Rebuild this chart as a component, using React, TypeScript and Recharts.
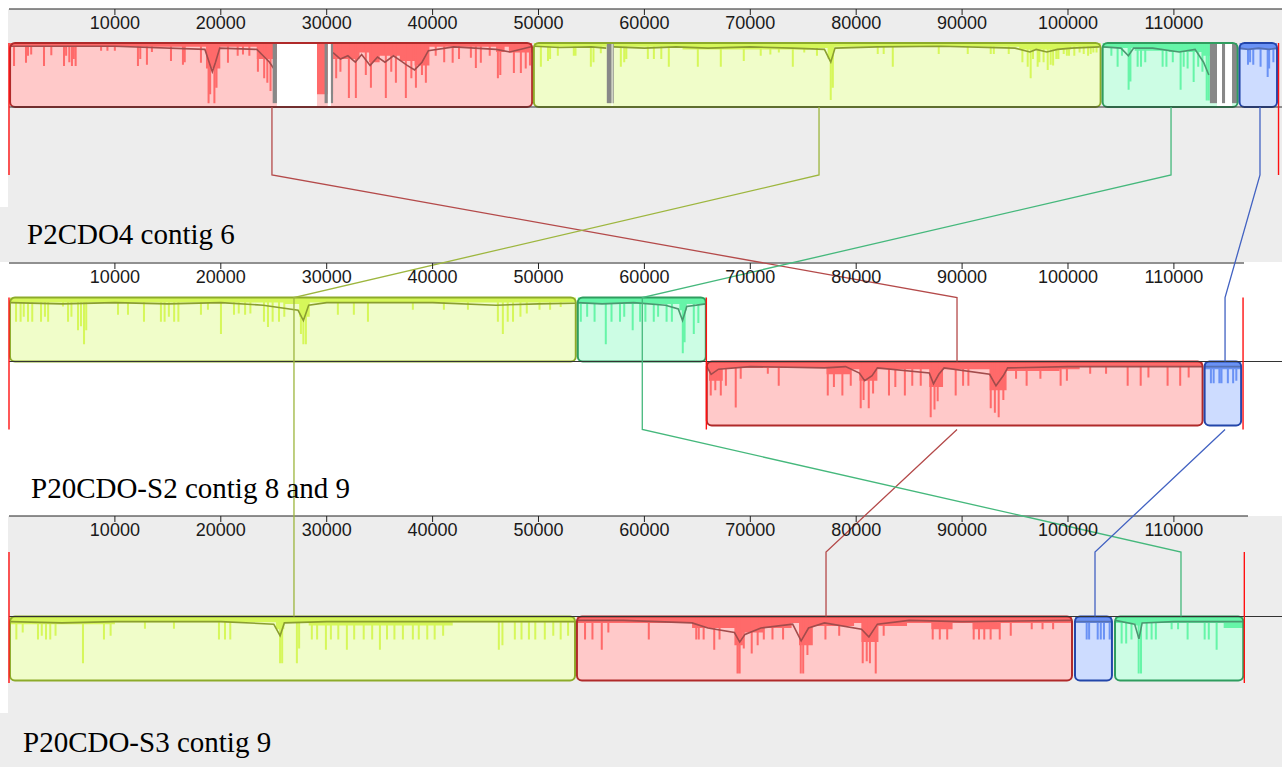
import {
  Area, ComposedChart, Line, Rectangle, ReferenceArea, ReferenceLine, Scatter, XAxis, YAxis,
} from 'recharts'

const TICKS = [10000, 20000, 30000, 40000, 50000, 60000, 70000, 80000, 90000, 100000, 110000]
const GENOME_NAMES = ['P2CDO4 contig 6', 'P20CDO-S2 contig 8 and 9', 'P20CDO-S3 contig 9']
const GENOME_LENGTHS = [119880, 116530, 116650]
const CONTIG_BREAKS = [[], [65850], []]

// LCBs of each genome: [lcb, start kb, end kb, inverted]
type Block = [string, number, number, boolean]
const BLOCKS_G1: Block[] = [
  ['red', 0.1, 49.4, false], ['yellow', 49.56, 103.08, false],
  ['green', 103.27, 116.02, false], ['blue', 116.2, 119.74, false],
]
const BLOCKS_G2: Block[] = [
  ['yellow', 0.09, 53.52, false], ['green', 53.71, 65.8, false],
  ['red', 65.89, 112.71, true], ['blue', 112.9, 116.35, true],
]
const BLOCKS_G3: Block[] = [
  ['yellow', 0.09, 53.45, true], ['red', 53.63, 100.38, true],
  ['blue', 100.66, 104.15, true], ['green', 104.44, 116.55, true],
]

// where the connecting line meets each genome (bp)
const ANCHORS_RED = [24830, 89520, 77150]
const ANCHORS_YELLOW = [76490, 26910, 26910]
const ANCHORS_GREEN = [109730, 59800, 110670]
const ANCHORS_BLUE = [118130, 114830, 102550]

// similarity profile, base level: [kb, drop % of block height]
const BASE_G1_RED = [
  [0.1, 6], [18.6, 40], [19.95, 6], [23.4, 25], [25.3, 0], [29.08, 80], [30.6, 25], [33.1, 15], [34.0, 30],
  [35.0, 20], [36.9, 28], [38.3, 35], [39.7, 6], [46.0, 14], [46.8, 6], [47.2, 15], [49.4, 15],
]
const BASE_G1_YELLOW = [
  [49.56, 6], [56.45, 0], [57.1, 6], [63.6, 10], [75.5, 8], [77.3, 25], [77.9, 6], [95.4, 10], [100.3, 6], [103.08, 6],
]
const BASE_G1_GREEN = [[103.27, 8], [106.3, 12], [109.5, 14], [112.7, 20], [113.4, 0], [116.02, 0]]
const BASE_G1_BLUE = [[116.2, 10], [119.74, 10]]
const BASE_G2_YELLOW = [[0.09, 8], [26.0, 10], [27.4, 30], [28.4, 8], [53.52, 8]]
const BASE_G2_GREEN = [[53.71, 10], [63.3, 20], [64.0, 10], [65.8, 10]]
const BASE_G2_RED = [
  [65.89, 10], [66.1, 30], [67.4, 10], [77.2, 20], [79.5, 12], [80.3, 30], [82.0, 12], [86.9, 40], [88.2, 12],
  [92.6, 45], [94.2, 15], [99.2, 12], [101.1, 8], [112.71, 8],
]
const BASE_G2_BLUE = [[112.9, 12], [116.35, 12]]
const BASE_G3_YELLOW = [[0.09, 12], [10.0, 9], [25.2, 20], [26.0, 9], [28.3, 14], [38.0, 14], [41.9, 9], [53.45, 12]]
const BASE_G3_RED = [
  [53.63, 10], [64.5, 18], [68.5, 45], [69.3, 25], [71.2, 18], [73.9, 10], [74.6, 45], [75.9, 15], [79.8, 10],
  [80.5, 40], [82.1, 15], [84.8, 10], [87.1, 20], [89.1, 10], [91.0, 20], [93.5, 10], [100.38, 10],
]
const BASE_G3_BLUE = [[100.66, 10], [104.15, 10]]
const BASE_G3_GREEN = [[104.44, 10], [106.3, 14], [107.0, 10], [114.7, 18], [116.55, 18]]

// thin spikes of the profile: [kb, drop %]
const SPIKES_G1_RED = [
  [0.38, 36], [1.51, 31], [1.7, 20], [2.0, 18], [3.21, 36], [3.9, 19], [5.1, 36], [5.3, 20], [5.6, 30], [5.85, 36],
  [6.0, 25], [6.2, 36], [8.6, 12], [9.2, 12], [9.9, 12], [12.08, 36], [12.3, 25], [12.93, 34], [13.4, 14],
  [15.2, 28], [16.33, 34], [16.5, 30], [18.03, 31], [18.75, 94], [18.9, 80], [19.3, 94], [19.5, 70], [20.58, 31],
  [21.5, 20], [22.0, 18], [22.6, 20], [23.41, 45], [24.0, 55], [24.3, 62], [24.6, 75], [30.8, 55], [31.2, 45],
  [32.0, 86], [32.66, 86], [33.6, 50], [34.08, 70], [35.49, 86], [36.0, 45], [36.44, 62], [37.38, 86], [37.9, 55],
  [38.33, 70], [38.9, 50], [39.27, 62], [40.2, 20], [41.0, 30], [41.8, 31], [42.4, 25], [43.52, 23], [43.99, 39],
  [44.46, 31], [45.3, 20], [46.07, 55], [46.3, 50], [47.58, 47], [48.24, 47], [48.7, 40], [49.1, 35],
]
const SPIKES_G1_YELLOW = [
  [50.13, 37], [50.8, 28], [51.0, 25], [51.73, 20], [53.24, 20], [53.4, 20], [54.85, 37], [55.1, 30], [55.79, 16],
  [57.68, 37], [58.0, 30], [58.2, 25], [60.23, 25], [60.8, 25], [61.5, 25], [62.21, 37], [64.95, 37], [67.12, 37],
  [69.29, 28], [70.89, 20], [71.8, 18], [72.6, 15], [73.92, 37], [75.0, 15], [76.2, 20], [77.5, 89], [77.7, 70],
  [81.94, 17], [82.5, 17], [83.36, 37], [87.7, 17], [90.44, 17], [92.61, 17], [92.9, 17], [94.31, 17], [95.6, 30],
  [96.1, 37], [96.38, 55], [96.6, 25], [97.04, 37], [97.2, 30], [97.6, 30], [97.99, 42], [98.27, 34], [98.5, 35],
  [98.8, 25], [99.0, 25], [99.5, 17], [99.8, 20], [100.0, 20], [100.5, 20], [101.0, 15], [101.39, 17],
  [101.8, 20], [102.05, 17], [102.3, 15], [102.6, 15],
]
const SPIKES_G1_GREEN = [
  [104.0, 20], [104.59, 37], [105.0, 20], [105.63, 73], [105.8, 60], [106.48, 37], [106.8, 37], [107.2, 30],
  [108.84, 37], [109.2, 37], [109.8, 30], [110.54, 73], [110.83, 37], [111.2, 40], [111.77, 61], [112.2, 37],
  [112.6, 45], [113.0, 90], [113.2, 90],
]
const SPIKES_G1_BLUE = [[116.9, 34], [117.1, 30], [117.4, 34], [118.09, 37], [118.76, 53], [118.9, 40], [119.3, 30]]
const SPIKES_G2_YELLOW = [
  [0.57, 38], [1.0, 38], [1.3, 30], [1.7, 38], [2.1, 38], [2.93, 38], [3.3, 30], [3.6, 38], [5.0, 14], [5.48, 38],
  [5.8, 30], [6.42, 51], [6.7, 45], [6.99, 73], [7.2, 51], [10.2, 27], [11.14, 27], [12.65, 38], [14.25, 38],
  [14.6, 38], [15.0, 30], [15.5, 38], [15.9, 38], [18.03, 27], [18.69, 19], [19.92, 57], [21.15, 27], [21.6, 25],
  [22.2, 27], [22.7, 25], [23.98, 38], [24.36, 46], [24.8, 38], [25.4, 38], [25.9, 30], [27.47, 57], [27.7, 73],
  [27.94, 73], [30.96, 27], [32.47, 27], [33.8, 38], [38.04, 19], [40.97, 19], [43.24, 19], [46.07, 38], [46.54, 57],
  [47.0, 38], [47.5, 38], [48.2, 30], [48.8, 25], [50.0, 19], [51.0, 19], [52.0, 15],
]
const SPIKES_G2_GREEN = [
  [53.9, 38], [54.5, 30], [55.2, 38], [56.26, 73], [56.8, 38], [57.6, 38], [58.0, 30], [58.8, 51], [59.5, 38],
  [60.0, 38], [60.79, 38], [61.2, 30], [62.0, 38], [62.5, 38], [63.53, 87], [63.7, 70], [64.57, 57], [65.0, 40],
]
const SPIKES_G2_RED = [
  [66.17, 53], [66.6, 45], [67.12, 53], [67.6, 38], [68.53, 72], [69.0, 27], [71.56, 19], [72.59, 38], [77.22, 53],
  [77.8, 40], [78.6, 53], [79.39, 38], [80.33, 73], [80.6, 60], [81.09, 73], [81.5, 50], [83.0, 53], [83.6, 40],
  [84.5, 53], [85.2, 38], [86.0, 38], [86.94, 87], [87.3, 75], [87.6, 62], [89.3, 53], [90.0, 38], [90.5, 38],
  [92.61, 73], [93.0, 80], [93.36, 87], [93.8, 60], [95.0, 27], [96.0, 38], [97.3, 27], [99.21, 38], [99.8, 30],
  [102.0, 19], [103.5, 19], [105.54, 38], [106.77, 38], [107.5, 25], [109.31, 38], [110.5, 38], [111.3, 25],
]
const SPIKES_G2_BLUE = [[113.4, 34], [113.66, 34], [114.2, 34], [114.4, 34], [115.0, 34], [115.5, 34], [115.8, 30]]
const SPIKES_G3_YELLOW = [
  [0.6, 36], [1.2, 25], [2.64, 36], [3.0, 30], [3.4, 36], [3.8, 36], [4.3, 30], [6.89, 73], [8.87, 36], [9.5, 30],
  [12.74, 19], [15.48, 19], [19.73, 36], [20.3, 36], [20.8, 36], [25.5, 73], [25.7, 73], [27.09, 73], [27.3, 50],
  [28.5, 36], [29.0, 36], [29.83, 52], [30.3, 36], [31.0, 36], [31.81, 52], [32.5, 36], [33.4, 36], [34.2, 36],
  [34.93, 52], [35.6, 36], [36.3, 36], [37.1, 36], [38.04, 36], [38.6, 36], [39.4, 36], [40.1, 36], [40.9, 30],
  [46.16, 52], [46.5, 45], [47.67, 36], [48.3, 36], [49.0, 36], [49.6, 36], [50.5, 36], [51.3, 30], [52.0, 36], [52.7, 30],
]
const SPIKES_G3_RED = [
  [54.3, 36], [55.0, 36], [55.88, 52], [56.5, 25], [60.32, 36], [64.8, 36], [65.04, 36], [65.5, 36], [66.5, 52],
  [67.0, 36], [68.7, 89], [68.9, 89], [69.29, 50], [70.04, 58], [70.6, 45], [71.18, 36], [72.0, 36], [73.0, 36],
  [74.67, 89], [74.9, 89], [75.3, 60], [77.0, 36], [78.3, 30], [80.52, 73], [80.9, 70], [81.2, 73], [81.75, 89],
  [82.5, 30], [87.13, 36], [87.8, 36], [88.5, 36], [91.0, 36], [91.5, 36], [92.0, 36], [92.6, 36], [93.46, 36],
  [94.5, 30], [96.48, 20], [97.5, 20], [98.5, 20],
]
const SPIKES_G3_BLUE = [[101.67, 36], [101.9, 36], [102.71, 36], [103.0, 36], [103.3, 36], [103.84, 36]]
const SPIKES_G3_GREEN = [
  [104.97, 42], [105.4, 42], [105.9, 36], [106.58, 89], [106.8, 89], [107.33, 36], [107.8, 36], [108.2, 36],
  [109.69, 20], [110.3, 20], [111.2, 36], [112.81, 36], [113.2, 36], [113.94, 52],
]

// darker average trace of the profile: [kb, drop %], null breaks the line
const TRACE_G1_RED = [
  [0.1, 5], [10, 5], [18.5, 10], [18.9, 30], [19.2, 45], [19.5, 30], [19.9, 8], [23.4, 10], [24.0, 20], [24.6, 30],
  [25.2, 45], [25.3, null], [30.6, 15], [31.3, 25], [32.0, 20], [32.7, 30], [33.3, 18], [34.1, 35], [34.8, 22],
  [35.5, 30], [36.3, 20], [37.0, 28], [37.6, 35], [38.3, 42], [39.0, 30], [39.6, 12], [42, 6], [46.0, 10], [47.3, 14],
  [49.3, 6],
]
const TRACE_G1_YELLOW = [
  [49.6, 5], [52, 7], [55, 6], [56.4, 8], [56.45, null], [57.1, 6], [60, 8], [63, 6], [66, 8], [70, 6], [74, 8],
  [77.0, 10], [77.6, 30], [78.0, 8], [82, 6], [88, 5], [95, 8], [96.4, 14], [97, 10], [98, 14], [99, 10],
  [100.3, 8], [103, 6],
]
const TRACE_G1_GREEN = [
  [103.3, 6], [105.0, 8], [105.7, 20], [106.2, 8], [108, 8], [110.5, 14], [112, 10], [112.8, 30], [113.3, 50],
]
const TRACE_G1_BLUE = [[116.2, 8], [117, 10], [118, 8], [119, 10], [119.7, 8]]
const TRACE_G2_YELLOW = [
  [0.1, 8], [5, 10], [10, 8], [15, 10], [20, 8], [24, 12], [27.3, 20], [27.8, 36], [28.3, 12], [30, 8], [40, 8],
  [46, 12], [50, 10], [53.5, 9],
]
const TRACE_G2_GREEN = [[53.7, 8], [56, 10], [59, 8], [62, 12], [63.2, 18], [63.6, 36], [64, 14], [65.8, 10]]
const TRACE_G2_RED = [
  [65.9, 8], [66.3, 20], [67.0, 12], [70, 8], [77, 10], [79, 8], [80.3, 18], [80.8, 30], [81.5, 22], [82, 10],
  [86.9, 18], [87.3, 35], [87.8, 20], [88.3, 10], [92.6, 20], [93.2, 38], [93.9, 22], [94.3, 10], [100, 8], [112.7, 8],
]
const TRACE_G2_BLUE = [[112.9, 8], [116.35, 8]]
const TRACE_G3_YELLOW = [
  [0.1, 8], [5, 10], [10, 8], [20, 8], [25.0, 12], [25.6, 30], [26.0, 10], [30, 8], [40, 8], [45, 8], [53.4, 8],
]
const TRACE_G3_RED = [
  [53.6, 6], [58, 6], [64.5, 10], [66, 18], [68.5, 25], [69.0, 40], [69.5, 28], [71, 18], [74, 12], [74.8, 38],
  [75.5, 18], [77, 10], [80.5, 20], [81.2, 32], [82, 12], [85, 6], [90, 8], [100.3, 6],
]
const TRACE_G3_BLUE = [[100.66, 8], [104.15, 8]]
const TRACE_G3_GREEN = [[104.44, 6], [106.3, 12], [106.7, 35], [107.0, 10], [110, 8], [114, 8], [116.5, 8]]

// unaligned stretches inside blocks: white [start kb, end kb], grey [start kb, end kb, drop %]
const WHITE_G1 = [[25.3, 29.08], [30.1, 30.4], [56.9, 57.0], [114.07, 115.49]]
const GREY_G1 = [
  [24.9, 25.3, 94], [29.8, 30.1, 94], [30.4, 30.6, 94], [56.45, 56.9, 94], [57.0, 57.1, 94],
  [113.4, 114.07, 94], [114.54, 114.83, 94], [115.49, 115.97, 94],
]

const LCB_STYLE: Record<string, { fill: string; peak: string; shade: string; edge: string; link: string }> = {
  red: { fill: '#ffc9c9', peak: '#ff6a6a', shade: '#a24c4c', edge: '#b02a2a', link: '#b44a4a' },
  yellow: { fill: '#f0fdc9', peak: '#d6f75a', shade: '#8a9e30', edge: '#8dab2a', link: '#9db63e' },
  green: { fill: '#ccfde4', peak: '#66f5a8', shade: '#4a9870', edge: '#2f9d5f', link: '#45b87c' },
  blue: { fill: '#cddcff', peak: '#6a92f5', shade: '#5470b4', edge: '#2346aa', link: '#4262c2' },
}

const W = 1282
const H = 767
const X_MIN = -850
const X_MAX = 120208
const BLOCK_H = 64
const SPIKE_W = 190
const PANELS = [
  { axisY: 9, axisEnd: X_MAX, center: 107, top: 43, bottom: 175, labelX: 27, labelY: 220 },
  { axisY: 263, axisEnd: 116620, center: 361.5, top: 297.5, bottom: 429.5, labelX: 31, labelY: 474 },
  { axisY: 516, axisEnd: 117000, center: 616.5, top: 552, bottom: 683, labelX: 23, labelY: 728 },
]

const GENOMES = [
  {
    blocks: BLOCKS_G1, white: WHITE_G1, grey: GREY_G1,
    base: { red: BASE_G1_RED, yellow: BASE_G1_YELLOW, green: BASE_G1_GREEN, blue: BASE_G1_BLUE },
    spikes: { red: SPIKES_G1_RED, yellow: SPIKES_G1_YELLOW, green: SPIKES_G1_GREEN, blue: SPIKES_G1_BLUE },
    trace: { red: TRACE_G1_RED, yellow: TRACE_G1_YELLOW, green: TRACE_G1_GREEN, blue: TRACE_G1_BLUE },
  },
  {
    blocks: BLOCKS_G2, white: [], grey: [],
    base: { red: BASE_G2_RED, yellow: BASE_G2_YELLOW, green: BASE_G2_GREEN, blue: BASE_G2_BLUE },
    spikes: { red: SPIKES_G2_RED, yellow: SPIKES_G2_YELLOW, green: SPIKES_G2_GREEN, blue: SPIKES_G2_BLUE },
    trace: { red: TRACE_G2_RED, yellow: TRACE_G2_YELLOW, green: TRACE_G2_GREEN, blue: TRACE_G2_BLUE },
  },
  {
    blocks: BLOCKS_G3, white: [], grey: [],
    base: { red: BASE_G3_RED, yellow: BASE_G3_YELLOW, green: BASE_G3_GREEN, blue: BASE_G3_BLUE },
    spikes: { red: SPIKES_G3_RED, yellow: SPIKES_G3_YELLOW, green: SPIKES_G3_GREEN, blue: SPIKES_G3_BLUE },
    trace: { red: TRACE_G3_RED, yellow: TRACE_G3_YELLOW, green: TRACE_G3_GREEN, blue: TRACE_G3_BLUE },
  },
]
const LINKS = [
  ['red', ANCHORS_RED], ['yellow', ANCHORS_YELLOW], ['green', ANCHORS_GREEN], ['blue', ANCHORS_BLUE],
] as [string, number[]][]

const depth = (top: number, d: number | null) => (d == null ? null : top + (d / 100) * BLOCK_H)
const toPoints = (prof: (number | null)[][], top: number) =>
  prof.map(([kb, d]) => ({ x: (kb as number) * 1000, y: depth(top, d) }))
const spikePoints = (spikes: number[][], top: number) =>
  spikes.flatMap(([kb, d]) => [{ x: kb * 1000, y: depth(top, d) }, { x: kb * 1000 + SPIKE_W, y: top }])

const isInverted = (g: number, lcb: string) => GENOMES[g].blocks.find((b) => b[0] === lcb)![3]

function linkPaths(anchors: number[], lcb: string) {
  const P = PANELS
  const paths: { x: number; y: number }[][] = []
  let pts = [
    { x: anchors[0], y: P[0].center }, { x: anchors[0], y: P[0].bottom }, { x: anchors[1], y: P[1].top },
  ]
  if (isInverted(1, lcb)) {
    pts.push({ x: anchors[1], y: P[1].center })
    paths.push(pts)
    pts = [{ x: anchors[1], y: P[1].bottom }]
  } else {
    pts.push({ x: anchors[1], y: P[1].bottom })
  }
  pts.push({ x: anchors[2], y: P[2].top }, { x: anchors[2], y: P[2].center })
  paths.push(pts)
  return paths
}

function TickMark(props: any) {
  const { cx, cy, payload } = props
  return (
    <g>
      <line x1={cx} x2={cx} y1={cy} y2={cy + 6} stroke="#222" strokeWidth={1} />
      <text x={cx} y={cy + 20} textAnchor="middle" fontSize={18}
        fontFamily="'Liberation Sans', Arial, sans-serif" fill="#1a1a1a">{payload.x}</text>
    </g>
  )
}

const rounded = (p: any) => <Rectangle {...p} radius={5} />

export default function App() {
  const els: any[] = []

  // panel backgrounds
  els.push(
    <ReferenceArea key="bg1" x1={-94} x2={X_MAX} y1={9} y2={262} fill="#ededed" fillOpacity={1} stroke="none" zIndex={1} />,
    <ReferenceArea key="bg1b" x1={X_MIN} x2={-94} y1={207} y2={262} fill="#ededed" fillOpacity={1} stroke="none" zIndex={1} />,
    <ReferenceArea key="bg3" x1={-94} x2={X_MAX} y1={516} y2={H} fill="#ededed" fillOpacity={1} stroke="none" zIndex={1} />,
    <ReferenceArea key="bg3b" x1={X_MIN} x2={-94} y1={713} y2={H} fill="#ededed" fillOpacity={1} stroke="none" zIndex={1} />,
  )

  PANELS.forEach((p, gi) => {
    const g = GENOMES[gi]
    els.push(
      <ReferenceLine key={`ax${gi}`} segment={[{ x: 0, y: p.axisY }, { x: p.axisEnd, y: p.axisY }]}
        stroke="#222" strokeWidth={1.2} zIndex={2} />,
    )
    g.blocks.forEach(([lcb, s, e, inv], bi) => {
      const st = LCB_STYLE[lcb]
      const top = inv ? p.center : p.center - BLOCK_H
      els.push(
        <ReferenceArea key={`bf${gi}${bi}`} x1={s * 1000} x2={e * 1000} y1={top} y2={top + BLOCK_H}
          fill={st.fill} fillOpacity={1} stroke="none" shape={rounded} zIndex={3} />,
        <Area key={`ba${gi}${bi}`} data={toPoints((g.base as any)[lcb], top)} dataKey="y" type="stepAfter"
          baseValue={top} fill={st.peak} fillOpacity={1} stroke="none" dot={false} activeDot={false}
          isAnimationActive={false} zIndex={4} />,
        <Area key={`sp${gi}${bi}`} data={spikePoints((g.spikes as any)[lcb], top)} dataKey="y" type="stepAfter"
          baseValue={top} fill={st.peak} fillOpacity={1} stroke="none" dot={false} activeDot={false}
          isAnimationActive={false} zIndex={4} />,
        <Line key={`tr${gi}${bi}`} data={toPoints((g.trace as any)[lcb], top)} dataKey="y" type="linear"
          stroke={st.shade} strokeWidth={1.6} dot={false} activeDot={false}
          isAnimationActive={false} zIndex={5} />,
      )
    })
    g.white.forEach(([s, e], i) => {
      const top = p.center - BLOCK_H
      els.push(
        <ReferenceArea key={`wh${gi}${i}`} x1={s * 1000} x2={e * 1000} y1={top + 1} y2={top + BLOCK_H - 1}
          fill="#ffffff" fillOpacity={1} stroke="none" zIndex={6} />,
      )
    })
    g.grey.forEach(([s, e, d], i) => {
      const top = p.center - BLOCK_H
      els.push(
        <ReferenceArea key={`gr${gi}${i}`} x1={s * 1000} x2={e * 1000} y1={top} y2={top + (d / 100) * BLOCK_H}
          fill="#888888" fillOpacity={1} stroke="none" zIndex={6} />,
      )
    })
    g.blocks.forEach(([lcb, s, e, inv], bi) => {
      const st = LCB_STYLE[lcb]
      const top = inv ? p.center : p.center - BLOCK_H
      els.push(
        <ReferenceArea key={`bb${gi}${bi}`} x1={s * 1000} x2={e * 1000} y1={top} y2={top + BLOCK_H}
          fill="none" fillOpacity={0} stroke={st.edge} strokeWidth={2} shape={rounded} zIndex={7} />,
      )
    })
    els.push(
      <ReferenceLine key={`cl${gi}`} segment={[{ x: 0, y: p.center }, { x: X_MAX, y: p.center }]}
        stroke="#333" strokeWidth={1.2} zIndex={8} />,
      <ReferenceLine key={`m0${gi}`} segment={[{ x: 0, y: p.top }, { x: 0, y: p.bottom }]}
        stroke="#ff1010" strokeWidth={1.4} zIndex={9} />,
      <ReferenceLine key={`m1${gi}`} segment={[{ x: GENOME_LENGTHS[gi], y: p.top }, { x: GENOME_LENGTHS[gi], y: p.bottom }]}
        stroke="#ff1010" strokeWidth={1.4} zIndex={9} />,
    )
    CONTIG_BREAKS[gi].forEach((b, i) => {
      els.push(
        <ReferenceLine key={`cb${gi}${i}`} segment={[{ x: b, y: p.top }, { x: b, y: p.bottom }]}
          stroke="#ff1010" strokeWidth={1.4} zIndex={9} />,
      )
    })
  })

  LINKS.forEach(([lcb, anchors]) => {
    linkPaths(anchors, lcb).forEach((pts, i) => {
      els.push(
        <Line key={`ln${lcb}${i}`} data={pts} dataKey="y" type="linear" stroke={LCB_STYLE[lcb].link}
          strokeWidth={1.3} dot={false} activeDot={false} isAnimationActive={false} zIndex={10} />,
      )
    })
  })

  PANELS.forEach((p, gi) => {
    els.push(
      <Scatter key={`tk${gi}`} data={TICKS.map((t) => ({ x: t, y: p.axisY }))} dataKey="y"
        shape={TickMark} isAnimationActive={false} zIndex={11} />,
    )
  })

  return (
    <div style={{ position: 'absolute', left: 0, top: 0, width: W, height: H, background: '#fff', overflow: 'hidden' }}>
      <ComposedChart width={W} height={H} margin={{ top: 0, right: 0, bottom: 0, left: 0 }}>
        <XAxis dataKey="x" type="number" domain={[X_MIN, X_MAX]} allowDataOverflow hide />
        <YAxis dataKey="y" type="number" domain={[0, H]} reversed allowDataOverflow hide />
        {els}
      </ComposedChart>
      {GENOME_NAMES.map((name, gi) => (
        <div key={name} style={{
          position: 'absolute', left: PANELS[gi].labelX, top: PANELS[gi].labelY,
          fontFamily: "'Liberation Serif', 'Times New Roman', serif", fontSize: 29, lineHeight: '29px',
          color: '#000', whiteSpace: 'nowrap',
        }}>{name}</div>
      ))}
    </div>
  )
}
